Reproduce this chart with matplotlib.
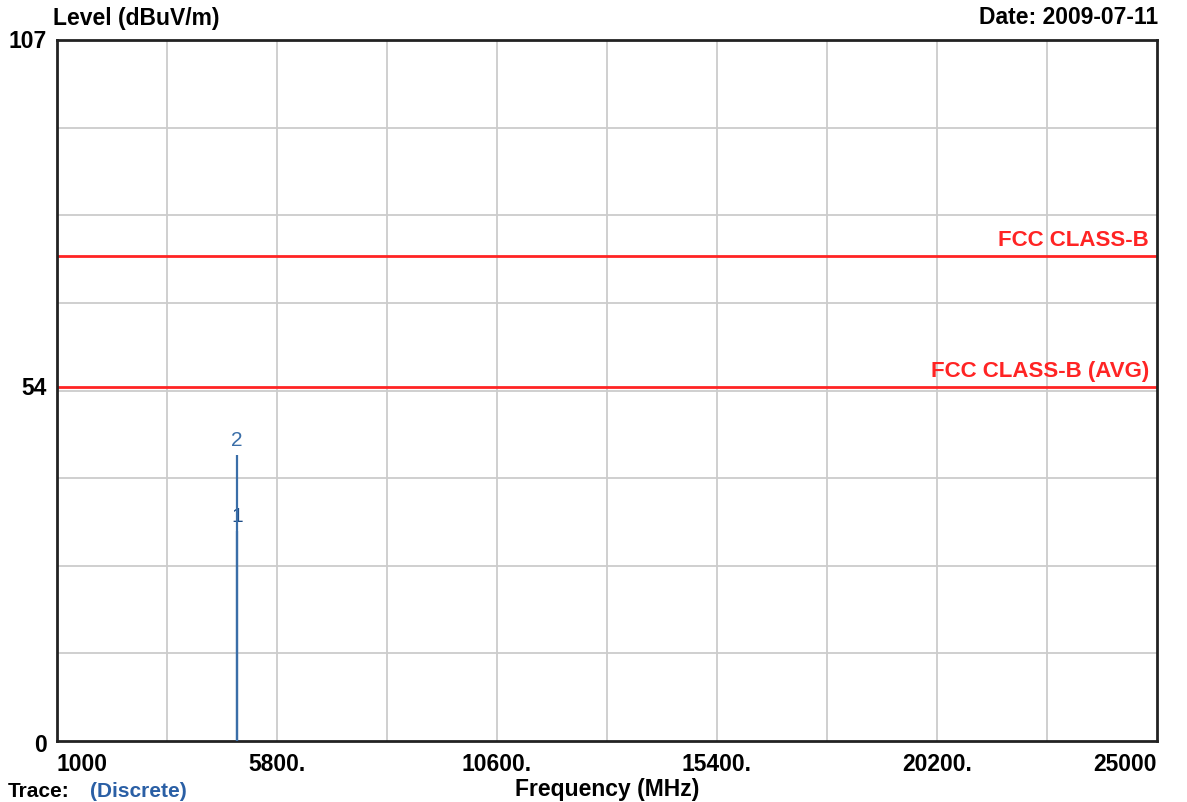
"""EMC radiated emission scan, 1-25 GHz, discrete markers vs FCC class-B limits."""

import matplotlib
matplotlib.use("Agg")
import matplotlib.pyplot as plt

plt.rcParams['font.family'] = ['Liberation Sans', 'DejaVu Sans']

# axis range
freq_min, freq_max = 1000, 25000
level_min, level_max = 0, 107

# x tick labels (every second grid line)
x_tick_vals = [1000, 5800, 10600, 15400, 20200, 25000]
x_tick_labels = ["1000", "5800.", "10600.", "15400.", "20200.", "25000"]
y_tick_vals = [0, 54, 107]
y_tick_labels = ["0", "54", "107"]

# limit lines
limit_names = ["FCC CLASS-B", "FCC CLASS-B (AVG)"]
limit_levels = [74, 54]

# discrete markers
marker_ids = ["1", "2"]
marker_freqs = [4924, 4924]
marker_levels = [32.0, 43.6]
marker_colors = ["#1d4c86", "#3a6ea8"]

RED = "#ff2424"
BLUE = "#3a6ea8"

fig = plt.figure(figsize=(11.87, 8.03), dpi=100)
ax = fig.add_axes([57 / 1187, 1 - 742 / 803, 1100 / 1187, 701 / 803])
ax.set_xlim(freq_min, freq_max)
ax.set_ylim(level_min, level_max)

# grid: 10 x-divisions, 8 y-divisions
for i in range(1, 10):
    ax.axvline(freq_min + i * (freq_max - freq_min) / 10, color="#cccccc", lw=1.3, zorder=0)
for i in range(1, 8):
    ax.axhline(level_min + i * (level_max - level_min) / 8, color="#cccccc", lw=1.3, zorder=0)

for spine in ax.spines.values():
    spine.set_linewidth(2)
    spine.set_color("#222222")

ax.set_xticks([])
ax.set_yticks([])

# limit lines with labels
for name, lev in zip(limit_names, limit_levels):
    ax.axhline(lev, color=RED, lw=2, zorder=2)
    ax.text(freq_max - 170, lev + 0.9, name, color=RED, fontsize=16,
            fontweight="bold", ha="right", va="bottom")

# discrete emission lines
for mid, f, lev, c in zip(marker_ids, marker_freqs, marker_levels, marker_colors):
    ax.vlines(f, 0, lev, color=BLUE, lw=1.6, zorder=3)
    ax.text(f, lev + 1.0, mid, color=c, fontsize=15, ha="center", va="bottom")

# tick labels drawn as text
for v, lab in zip(x_tick_vals, x_tick_labels):
    ha = "center"
    if v == freq_min:
        ha = "left"
    elif v == freq_max:
        ha = "right"
    ax.text(v, -0.016, lab, transform=ax.get_xaxis_transform(), ha=ha, va="top",
            fontsize=16.5, fontweight="bold")
for v, lab in zip(y_tick_vals, y_tick_labels):
    off = {0: -0.6, 54: 0, 107: 0.0}[v]
    ax.text(-0.009, v + off, lab, transform=ax.get_yaxis_transform(), ha="right",
            va="center", fontsize=16.5, fontweight="bold")

fig.text(53 / 1187, 1 - 18 / 803, "Level (dBuV/m)", ha="left", va="center",
         fontsize=16.5, fontweight="bold")
fig.text(1158 / 1187, 1 - 18 / 803, "Date: 2009-07-11", ha="right", va="center",
         fontsize=16.5, fontweight="bold")
fig.text(607 / 1187, 1 - 790 / 803, "Frequency (MHz)", ha="center", va="center",
         fontsize=16.5, fontweight="bold")
fig.text(8 / 1187, 1 - 801 / 803, "Trace:", ha="left", va="bottom",
         fontsize=15, fontweight="bold")
fig.text(90 / 1187, 1 - 801 / 803, "(Discrete)", ha="left", va="bottom",
         fontsize=15, fontweight="bold", color="#2a5fa5")

fig.savefig("out.png", dpi=100)
